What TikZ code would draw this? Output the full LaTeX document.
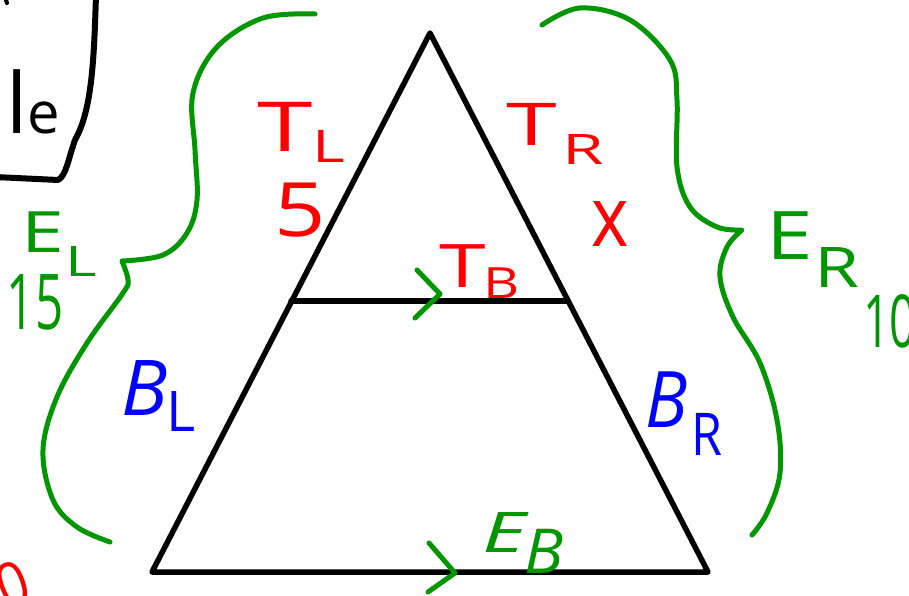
\documentclass[tikz,border=0pt]{standalone}
\usepackage{graphicx}
\usepackage{fontspec}
\setmainfont{Open Sans}
\newcommand{\hw}[3]{\scalebox{#2}[1]{\fontsize{#1}{#1}\selectfont #3}}
\definecolor{hgreen}{RGB}{0,150,0}
\definecolor{hred}{RGB}{255,0,0}
\definecolor{hblue}{RGB}{0,0,255}
\begin{document}
\begin{tikzpicture}[x=1pt,y=-1pt,
  pen/.style={line width=5.5pt,line cap=round,line join=round},
  brace/.style={pen,draw=hgreen,line width=5pt},
  lbl/.style={inner sep=0pt,anchor=center},
  rlbl/.style={lbl,text=hred},
  glbl/.style={lbl,text=hgreen},
  blbl/.style={lbl,text=hblue}]
\useasboundingbox (0,0) rectangle (909,596);
% partial box top-left
\draw[pen,line width=6pt] (96,-5) .. controls (94,60) and (92,110) .. (75,140)
  .. controls (68,160) and (66,176) .. (58,180) -- (-5,177);
\draw[pen,line width=4pt] (6,0) -- (7,3);
\node[inner sep=0pt,anchor=base west] (le) at (6,134) {{\fontsize{84}{84}\selectfont l}{\fontsize{58}{58}\selectfont e}};
% triangle
\coordinate (apex) at (430,33);
\coordinate (bl) at (152,572);
\coordinate (br) at (708,572);
\coordinate (ml) at (291,301);
\coordinate (mr) at (568,301);
\draw[pen] (apex) -- (bl) -- (br) -- cycle;
\draw[pen] (ml) -- (mr);
% chevrons
\draw[brace] (417,270) -- (440,294) -- (415,318);
\draw[brace] (429,543) -- (455,573) -- (428,592);
% braces
\draw[brace] plot[smooth,tension=0.6] coordinates {(315,14) (263,18) (217,47) (193,93) (195,150) (197,200) (187,233) (163,255) (122,261)}
  -- plot[smooth,tension=0.6] coordinates {(122,261) (128,280) (123,293) (87,343) (57,397) (43,450) (53,500) (77,527) (110,542)};
\draw[brace] plot[smooth,tension=0.6] coordinates {(542,25) (580,8) (630,20) (670,60) (677,100) (677,167) (690,207) (717,227) (742,230)}
  -- plot[smooth,tension=0.6] coordinates {(742,230) (727,247) (720,277) (733,317) (760,363) (777,420) (780,473) (767,513) (752,535)};
% red labels
\node[rlbl] (tlT) at (285,127) {\hw{69}{1.45}{T}};
\node[rlbl] (tlL) at (329,146) {\hw{45}{1.4}{L}};
\node[rlbl] (tl5) at (300,210) {\hw{75}{1.2}{5}};
\node[rlbl] (trT) at (532,124) {\hw{59}{1.55}{T}};
\node[rlbl] (trR) at (583,150) {\hw{42}{1.6}{R}};
\node[rlbl] (trx) at (610,224) {\hw{84}{0.85}{x}};
\node[rlbl] (tbT) at (463,266) {\hw{60}{1.4}{T}};
\node[rlbl] (tbB) at (502,283) {\hw{43}{1.3}{B}};
\node[rlbl,rotate=20] (zero) at (13,584) {\hw{60}{0.9}{0}};
% blue labels
\node[blbl] (blB) at (145,388) {\hw{77}{1}{\itshape B}};
\node[blbl] (blL) at (181,412) {\hw{56}{1}{L}};
\node[blbl] (brB) at (667,400) {\hw{78}{0.9}{\itshape B}};
\node[blbl] (brR) at (707,434) {\hw{59}{0.85}{R}};
% green labels
\node[glbl] (elE) at (43,232) {\hw{57}{1.35}{E}};
\node[glbl] (elL) at (81,262) {\hw{42}{1.45}{L}};
\node[glbl] (el15) at (35,302) {\hw{77}{0.64}{15}};
\node[glbl] (erE) at (790,236) {\hw{67}{1.25}{E}};
\node[glbl] (erR) at (837,268) {\hw{56}{1.3}{R}};
\node[glbl,anchor=west] (er10) at (863,321) {\hw{73}{0.64}{10}};
\node[glbl] (ebE) at (504,533) {\hw{56}{1.5}{\itshape E}};
\node[glbl] (ebB) at (544,551) {\hw{62}{1.05}{\itshape B}};
\end{tikzpicture}
\end{document}
